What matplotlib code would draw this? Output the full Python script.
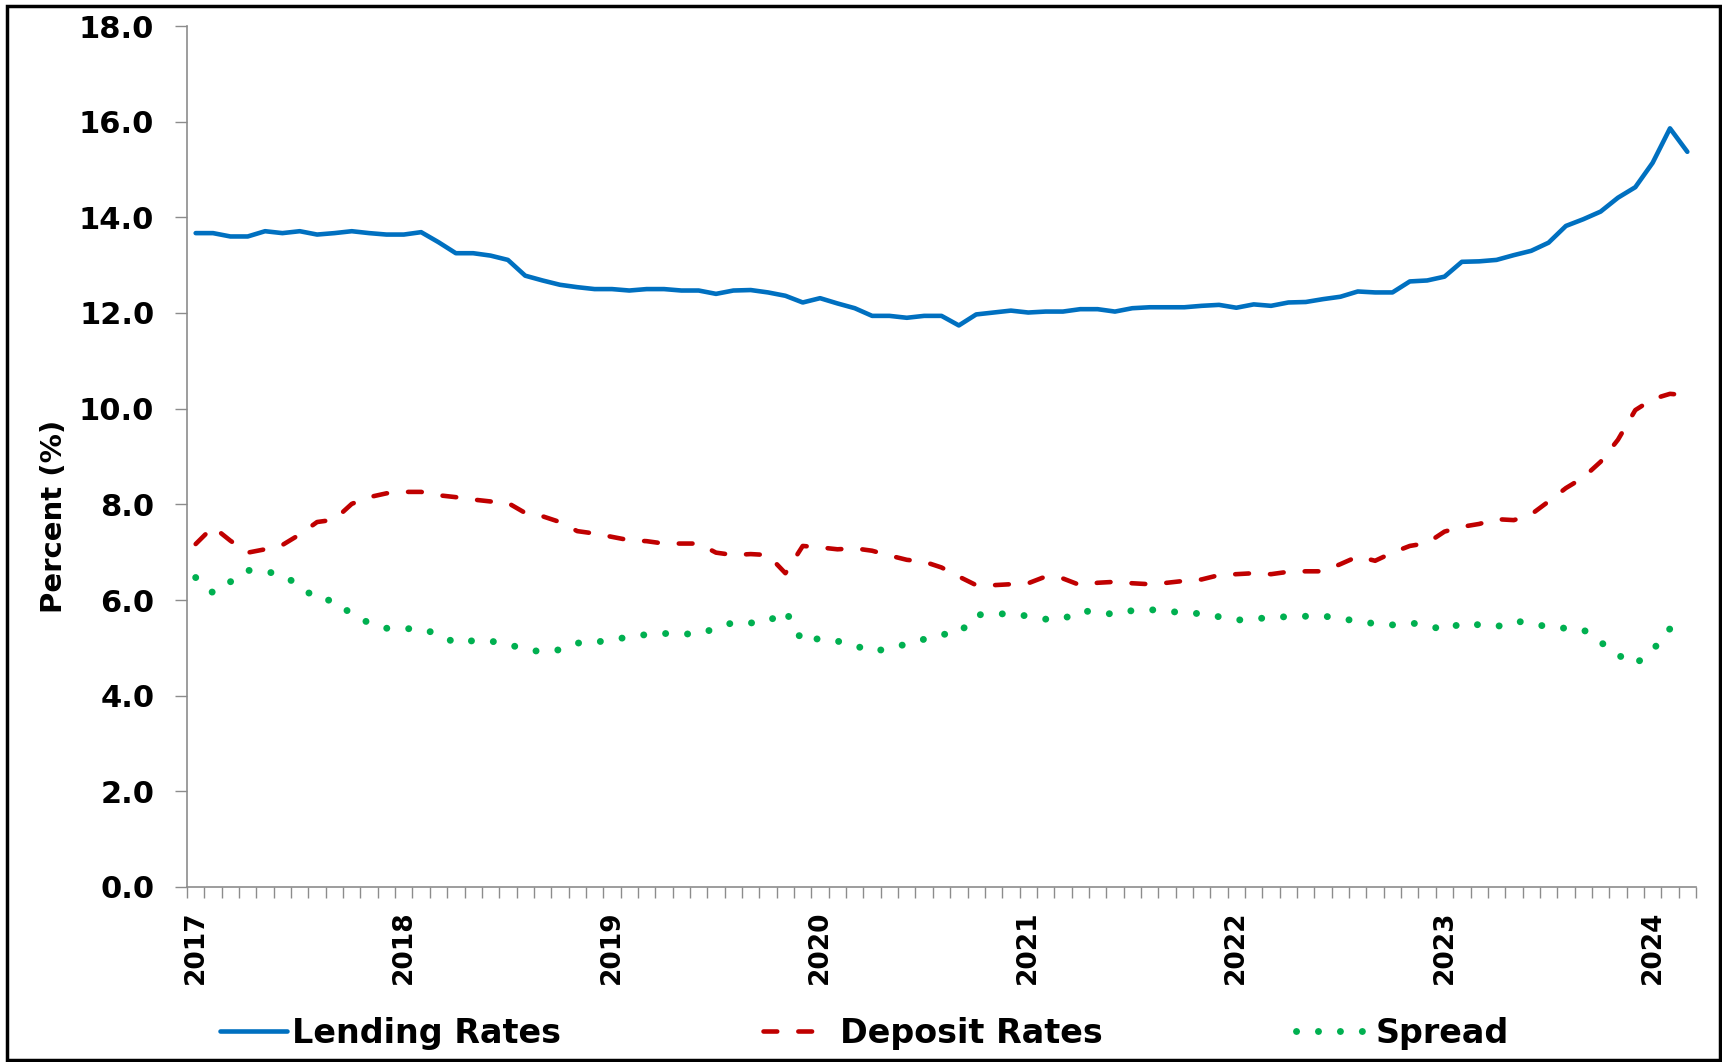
import numpy as np
import matplotlib.pyplot as plt
from matplotlib.patches import Rectangle

# monthly values, Jan 2017 - Mar 2024
lending = [13.67, 13.67, 13.60, 13.60, 13.71, 13.67, 13.71, 13.64, 13.67, 13.71, 13.67, 13.64,
           13.64, 13.69, 13.48, 13.25, 13.25, 13.20, 13.11, 12.78, 12.68, 12.59, 12.54, 12.50,
           12.50, 12.47, 12.50, 12.50, 12.47, 12.47, 12.40, 12.47, 12.48, 12.43, 12.36, 12.22,
           12.31, 12.20, 12.10, 11.94, 11.94, 11.90, 11.94, 11.94, 11.74, 11.97, 12.01, 12.05,
           12.01, 12.03, 12.03, 12.08, 12.08, 12.03, 12.10, 12.12, 12.12, 12.12, 12.15, 12.17,
           12.11, 12.18, 12.15, 12.22, 12.23, 12.29, 12.34, 12.45, 12.43, 12.43, 12.66, 12.68,
           12.76, 13.07, 13.08, 13.11, 13.21, 13.30, 13.47, 13.82, 13.96, 14.12, 14.41, 14.63,
           15.14, 15.86, 15.37]
deposit = [7.17, 7.53, 7.24, 6.99, 7.06, 7.15, 7.37, 7.63, 7.68, 8.01, 8.15, 8.23,
           8.26, 8.26, 8.19, 8.15, 8.10, 8.06, 8.03, 7.82, 7.75, 7.63, 7.44, 7.39,
           7.32, 7.25, 7.23, 7.18, 7.18, 7.18, 6.99, 6.94, 6.96, 6.94, 6.56, 7.13,
           7.10, 7.06, 7.08, 7.03, 6.93, 6.84, 6.80, 6.68, 6.49, 6.31, 6.31, 6.33,
           6.35, 6.49, 6.45, 6.31, 6.36, 6.38, 6.35, 6.33, 6.36, 6.40, 6.43, 6.52,
           6.54, 6.56, 6.54, 6.59, 6.60, 6.60, 6.75, 6.91, 6.82, 6.99, 7.13, 7.19,
           7.43, 7.53, 7.59, 7.69, 7.67, 7.79, 8.06, 8.34, 8.56, 8.89, 9.35, 9.97,
           10.20, 10.31, 10.28]
spread = [6.47, 6.15, 6.38, 6.62, 6.60, 6.52, 6.30, 6.01, 5.99, 5.70, 5.52, 5.41,
          5.40, 5.40, 5.28, 5.10, 5.15, 5.14, 5.08, 4.96, 4.92, 4.96, 5.10, 5.11,
          5.18, 5.22, 5.28, 5.30, 5.29, 5.29, 5.41, 5.53, 5.52, 5.55, 5.78, 5.12,
          5.20, 5.14, 5.05, 4.92, 4.99, 5.08, 5.18, 5.28, 5.30, 5.69, 5.70, 5.72,
          5.66, 5.60, 5.60, 5.78, 5.74, 5.70, 5.78, 5.80, 5.76, 5.74, 5.71, 5.65,
          5.58, 5.60, 5.64, 5.65, 5.66, 5.67, 5.60, 5.57, 5.50, 5.48, 5.52, 5.48,
          5.36, 5.52, 5.48, 5.44, 5.56, 5.52, 5.43, 5.41, 5.38, 5.12, 4.85, 4.66,
          4.95, 5.40, 5.47]
years = ['2017', '2018', '2019', '2020', '2021', '2022', '2023', '2024']

plt.rcParams['font.family'] = 'DejaVu Sans'
plt.rcParams['font.weight'] = 'bold'

x = np.arange(len(lending))
W, H = 1722, 1062

fig = plt.figure(figsize=(W / 100, H / 100), dpi=100)
ax = fig.add_axes([187 / W, (H - 887) / H, (1696 - 187) / W, (887 - 26) / H])

l1, = ax.plot(x, lending, color='#0070C0', lw=3.3, solid_capstyle='round',
              solid_joinstyle='round', label='Lending Rates')
l2, = ax.plot(x, deposit, color='#C00000', lw=3.3, linestyle=(0, (3.0, 4.6)),
              dash_capstyle='round', label='Deposit Rates')
l3, = ax.plot(x, spread, color='#00B050', lw=5.0, linestyle=(0, (0.01, 3.15)),
              dash_capstyle='round', label='Spread')

ax.set_ylim(0, 18)
ax.set_yticks(np.arange(0, 18.1, 2))
ax.set_yticklabels(['%.1f' % v for v in np.arange(0, 18.1, 2)], fontsize=22, fontweight='bold')
ax.set_xlim(-0.5, len(lending) - 0.5)
ax.set_xticks(np.arange(len(years)) * 12)
ax.set_xticklabels(years, rotation=90, fontsize=19, fontweight='bold')
ax.set_xticks(np.arange(-0.5, len(lending), 1), minor=True)

gray = '#8C8C8C'
ax.tick_params(axis='x', which='major', length=0, pad=17)
ax.tick_params(axis='x', which='minor', length=8, width=1, color=gray, direction='out')
ax.tick_params(axis='y', length=8.5, width=1, color=gray, pad=15)
for s in ['top', 'right']:
    ax.spines[s].set_visible(False)
for s in ['left', 'bottom']:
    ax.spines[s].set_color(gray)
    ax.spines[s].set_linewidth(1.2)

ax.set_ylabel('Percent (%)', fontsize=21, fontweight='bold')
ax.yaxis.set_label_coords((68 - 187) / (1696 - 187), 0.43)

# one legend entry each, placed where the reference has them
leg_y = (H - 1033) / H
for line, x0, pad in [(l1, 220, 0.15), (l2, 763, 0.3), (l3, 1296, 0.4)]:
    leg = fig.legend(handles=[line], loc='center left', bbox_to_anchor=(x0 / W, leg_y),
                     frameon=False, fontsize=24, borderpad=0, borderaxespad=0,
                     handlelength=2.0, handletextpad=pad)

fig.add_artist(Rectangle((7 / W, 2 / H), (1720 - 7) / W, (1056 - 2) / H,
                         transform=fig.transFigure, fill=False, ec='black', lw=2.5))

fig.savefig('out.png', dpi=100)
